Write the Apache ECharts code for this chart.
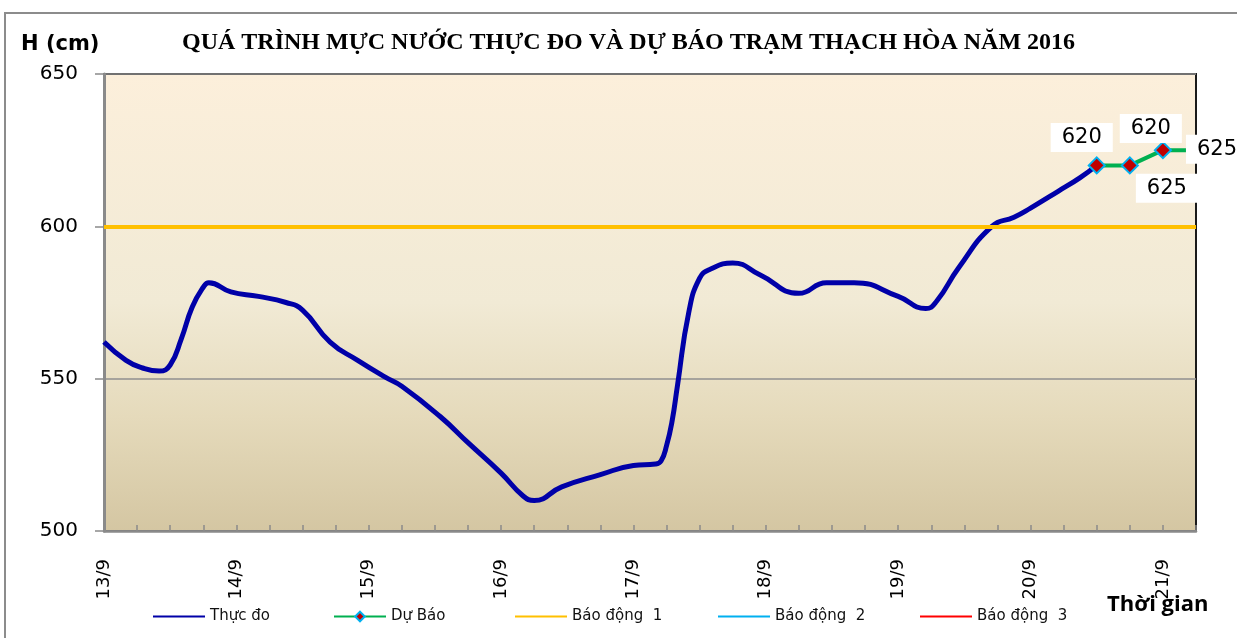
<!DOCTYPE html>
<html>
<head>
    <meta charset="utf-8">
    <style>
        html, body {
            height: 100%;
            margin: 0;
            padding: 0;
            background: #ffffff;
        }

        .container {
            width: 1237px;
            height: 638px;
        }
    </style>
</head>
<body>
<div id="main" class="container"></div>

<script src="https://cdn.jsdelivr.net/npm/echarts@6/dist/echarts.min.js"></script>
<script type="text/javascript">
// hours counted from 13/9 00h, water level in cm
var obsHours = [0, 4, 7, 10, 12, 14, 16, 18, 19, 23, 28, 33, 36, 41, 46, 51, 54, 61, 66, 72, 76, 78, 83, 90, 96, 100, 101, 102, 103, 104, 106, 108, 110, 114, 119, 126, 131, 136, 144, 149, 151, 155, 161, 165, 168, 173, 177, 180];
var obsLevels = [562, 556, 553.5, 552.5, 554.5, 563, 573.5, 580, 581.5, 578.5, 577, 575, 572.5, 562, 556, 550.5, 547.5, 537.5, 529, 519, 511.5, 510, 514.5, 518.5, 521.5, 522, 523, 528, 536, 548, 571.5, 583, 586, 588, 584, 578, 581.5, 581.5, 577, 573, 575.5, 586.5, 600, 603, 606, 611.5, 616, 620];

var fcHours = [180, 186, 192, 198];
var fcLevels = [620, 620, 625, 625];

var alarm1 = 600;

var dayLabels = ['13/9', '14/9', '15/9', '16/9', '17/9', '18/9', '19/9', '20/9', '21/9'];

var seriesNames = ['Thực đo', 'Dự Báo', 'Báo động  1', 'Báo động  2', 'Báo động  3'];

function createChart() {
    var myChart = echarts.init(document.getElementById('main'));
    var sans = 'DejaVu Sans';

    // label offsets for the forecast points (as placed in the original)
    var fcLabelOffsets = [[-15, -28], [21, -37], [4, 38], [21, -1]];

    var obsData = obsHours.map(function (h, i) {
        return [h, obsLevels[i]];
    });
    var fcData = fcHours.map(function (h, i) {
        return {
            value: [h, fcLevels[i]],
            label: {offset: fcLabelOffsets[i]}
        };
    });

    var legendLefts = [148, 328, 510, 713, 915];
    var legends = seriesNames.map(function (name, i) {
        var isFc = i === 1;
        return {
            data: isFc ? [name] : [{name: name, icon: 'rect'}],
            left: legendLefts[i],
            top: isFc ? 604 : 604,
            itemWidth: 52,
            itemHeight: isFc ? 12 : 2,
            selectedMode: false,
            lineStyle: {width: 2},
            textStyle: {color: '#111', fontSize: 15, fontFamily: sans}
        };
    });

    var option = {
        backgroundColor: '#ffffff',
        animation: false,
        title: [
            {
                text: 'QUÁ TRÌNH MỰC NƯỚC THỰC ĐO VÀ DỰ BÁO TRẠM THẠCH HÒA NĂM 2016',
                left: 177,
                top: 26,
                textStyle: {fontFamily: 'Liberation Serif', fontWeight: 'bold', fontSize: 24, color: '#000'}
            },
            {
                text: 'H (cm)',
                left: 16,
                top: 29,
                textStyle: {fontFamily: sans, fontWeight: 'bold', fontSize: 21, color: '#000'}
            },
            {
                text: 'Thời gian',
                left: 1102,
                top: 589,
                textStyle: {fontFamily: 'Open Sans', fontWeight: 'bold', fontSize: 22, color: '#000'}
            }
        ],
        legend: legends,
        graphic: [{
            type: 'rect',
            z: -10,
            shape: {x: 5, y: 13, width: 1300, height: 700},
            style: {fill: null, stroke: '#8c8c8c', lineWidth: 2}
        }],
        grid: {
            left: 104,
            right: 41,
            top: 74,
            bottom: 107,
            show: true,
            borderColor: '#1a1a1a',
            borderWidth: 2,
            backgroundColor: {
                type: 'linear', x: 0, y: 0, x2: 0, y2: 1,
                colorStops: [
                    {offset: 0, color: '#fcefdb'},
                    {offset: 0.5, color: '#f1ead5'},
                    {offset: 0.75, color: '#e5dabb'},
                    {offset: 1, color: '#d4c6a2'}
                ]
            }
        },
        xAxis: {
            type: 'value',
            min: 0,
            max: 198,
            interval: 6,
            axisLine: {show: true, lineStyle: {color: '#8a8a8a', width: 2.5}},
            axisTick: {show: true, inside: true, length: 6, lineStyle: {color: '#8a8a8a', width: 1.5}},
            splitLine: {show: false},
            axisLabel: {
                rotate: 90,
                margin: 28,
                fontSize: 18,
                fontFamily: sans,
                color: '#000',
                showMaxLabel: true,
                formatter: function (v) {
                    if (v % 24 !== 0) return '';
                    return dayLabels[v / 24] || '';
                }
            }
        },
        yAxis: {
            type: 'value',
            min: 500,
            max: 650,
            interval: 50,
            axisLine: {show: true, lineStyle: {color: '#8a8a8a', width: 3}},
            axisTick: {show: true, inside: false, length: 9, lineStyle: {color: '#8a8a8a', width: 1.5}},
            splitLine: {show: true, lineStyle: {color: '#8f8f8f', width: 1.5}},
            axisLabel: {margin: 26, fontSize: 20, fontFamily: sans, color: '#000'}
        },
        series: [
            {
                name: seriesNames[0],
                type: 'line',
                data: obsData,
                smooth: 0.5,
                symbol: 'none',
                z: 3,
                color: '#0000a8',
                lineStyle: {color: '#0000a8', width: 5}
            },
            {
                name: seriesNames[1],
                type: 'line',
                data: fcData,
                symbol: 'diamond',
                symbolSize: 16,
                z: 4,
                color: '#00b050',
                lineStyle: {color: '#00b050', width: 4},
                itemStyle: {color: '#c00000', borderColor: '#00b0f0', borderWidth: 2},
                label: {
                    show: true,
                    position: 'inside',
                    fontFamily: sans,
                    fontSize: 21,
                    color: '#000',
                    backgroundColor: '#ffffff',
                    padding: [4, 11],
                    formatter: function (p) {
                        return p.value[1];
                    }
                }
            },
            {
                name: seriesNames[2],
                type: 'line',
                data: [],
                symbol: 'none',
                z: 2,
                color: '#ffc000',
                lineStyle: {color: '#ffc000', width: 2},
                markLine: {
                    silent: true,
                    symbol: 'none',
                    label: {show: false},
                    lineStyle: {color: '#ffc000', width: 4, type: 'solid'},
                    data: [{yAxis: alarm1}]
                }
            },
            {
                name: seriesNames[3],
                type: 'line',
                data: [],
                symbol: 'none',
                color: '#00b0f0',
                lineStyle: {color: '#00b0f0', width: 2}
            },
            {
                name: seriesNames[4],
                type: 'line',
                data: [],
                symbol: 'none',
                color: '#ff0000',
                lineStyle: {color: '#ff0000', width: 2}
            }
        ]
    };

    myChart.setOption(option);
}

createChart();
</script>
</body>
</html>
